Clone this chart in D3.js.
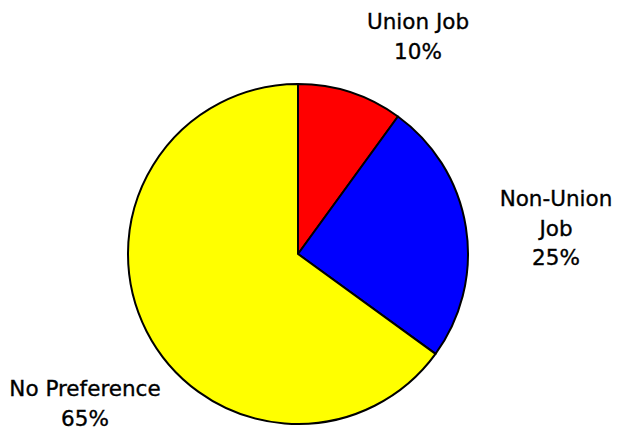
<!DOCTYPE html>
<html>
<head>
<meta charset="utf-8">
<script src="https://cdn.jsdelivr.net/npm/d3@7"></script>
<style>
  html, body { margin: 0; padding: 0; background: #fff; }
  svg { display: block; }
  text { font-family: "DejaVu Sans", Verdana, sans-serif; font-size: 21.5px; fill: #000; stroke: #000; stroke-width: 0.35px; }
</style>
</head>
<body>
<svg id="chart" width="619" height="430"></svg>
<script>
// Data
const categories = ["Union Job", "Non-Union Job", "No Preference"];
const values = [10, 25, 65];
const labelLines = [["Union Job", "10%"], ["Non-Union", "Job", "25%"], ["No Preference", "65%"]];
const colors = ["#ff0000", "#0000ff", "#ffff00"];

// Layout
const W = 619, H = 430;
const cx = 298, cy = 254, radius = 170;
const labelPos = [ [418, 29], [556, 206], [85, 396] ]; // first-line baselines
const lineH = 29.5;

const svg = d3.select("#chart");
const g = svg.append("g").attr("transform", `translate(${cx},${cy})`);

const pie = d3.pie().sort(null).value(d => d)(values);
const arc = d3.arc().innerRadius(0).outerRadius(radius);

g.selectAll("path.slice")
  .data(pie)
  .join("path")
  .attr("class", "slice")
  .attr("d", arc)
  .attr("fill", (d, i) => colors[i])
  .attr("stroke", "#000")
  .attr("stroke-width", 2)
  .attr("stroke-linejoin", "round");

const labels = svg.selectAll("text.lbl")
  .data(pie)
  .join("text")
  .attr("class", "lbl")
  .attr("text-anchor", "middle")
  .attr("x", (d, i) => labelPos[i][0])
  .attr("y", (d, i) => labelPos[i][1]);

labels.each(function(d, i) {
  const t = d3.select(this);
  labelLines[i].forEach((line, k) => {
    t.append("tspan")
      .attr("x", labelPos[i][0])
      .attr("dy", k === 0 ? 0 : lineH)
      .text(line);
  });
});
</script>
</body>
</html>
